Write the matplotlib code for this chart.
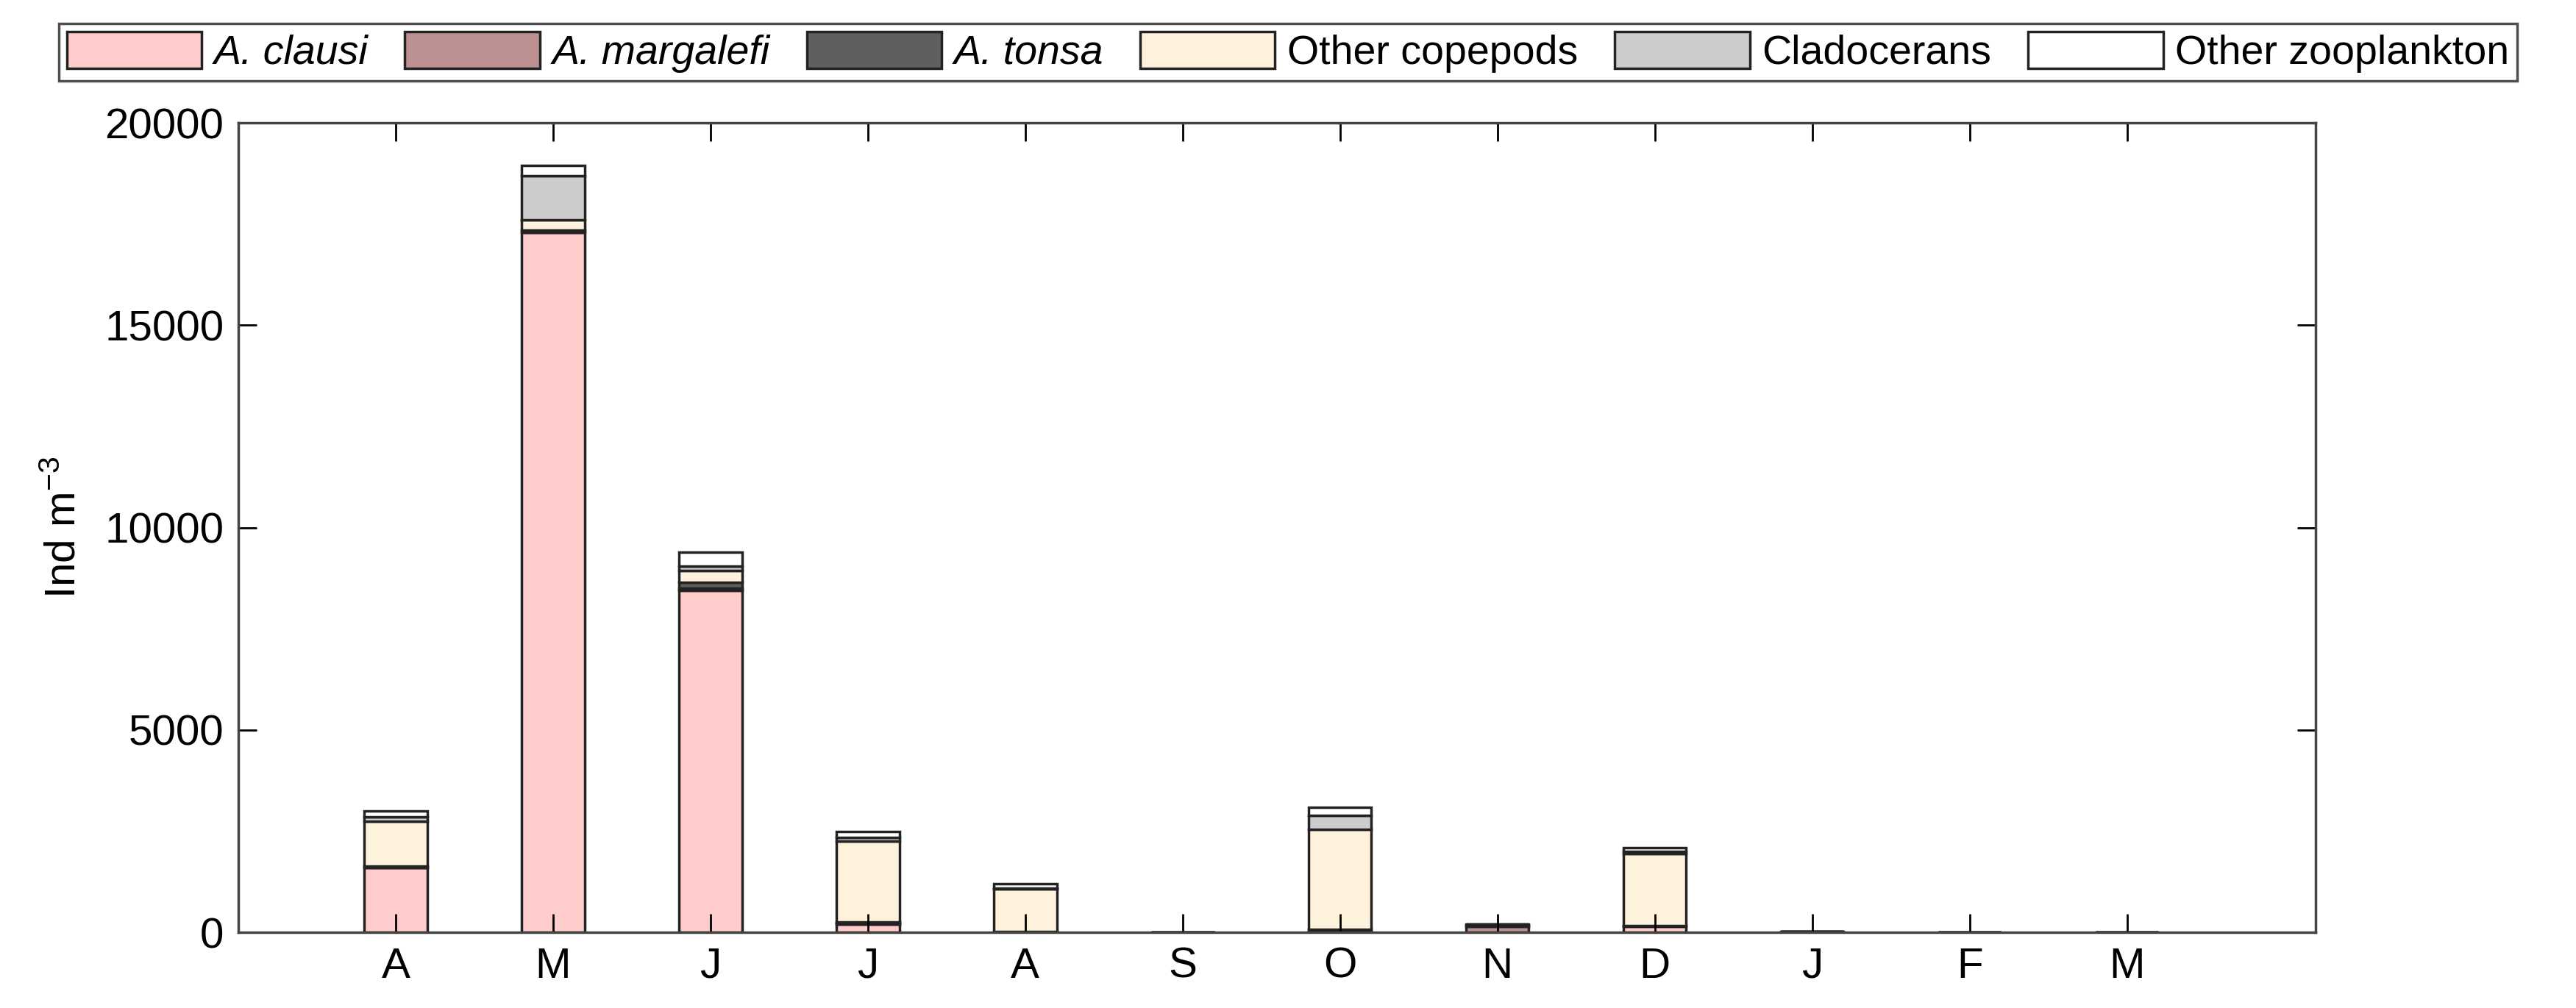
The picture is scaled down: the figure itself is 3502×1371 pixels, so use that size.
import matplotlib
matplotlib.use("Agg")
import matplotlib.pyplot as plt
import numpy as np

plt.rcParams['font.family'] = ['Liberation Sans', 'DejaVu Sans']
plt.rcParams['mathtext.fontset'] = 'custom'
plt.rcParams['mathtext.rm'] = 'Liberation Sans'
plt.rcParams['mathtext.it'] = 'Liberation Sans:italic'

months = ["A", "M", "J", "J", "A", "S", "O", "N", "D", "J", "F", "M"]
clausi     = [1600, 17300, 8450,  200,   20, 0,   20,   0,  150,  0, 0, 0]
margalefi  = [   0,     0,   50,   30,    0, 0,   60, 150,   20, 20, 0, 5]
tonsa      = [  30,    50,  150,   30,    0, 0,    0,  40,    0, 10, 0, 5]
other_cop  = [1120,   250,  300, 2000, 1050, 0, 2470,   5, 1780,  0, 0, 0]
cladocera  = [ 100,  1100,  100,   80,   30, 0,  350,   0,   50,  0, 0, 0]
other_zoo  = [ 150,   250,  350,  160,  100, 0,  200,   5,  100,  0, 0, 0]

series = [
    ("A. clausi", clausi, "#ffcccc", "italic"),
    ("A. margalefi", margalefi, "#bc9090", "italic"),
    ("A. tonsa", tonsa, "#5f5f5f", "italic"),
    ("Other copepods", other_cop, "#fff2dc", "normal"),
    ("Cladocerans", cladocera, "#cccccc", "normal"),
    ("Other zooplankton", other_zoo, "#ffffff", "normal"),
]

fig = plt.figure(figsize=(35.02, 13.71), dpi=100)
ax = fig.add_axes([0.0925, 0.075, 0.8065, 0.803])
x = np.arange(1, len(months) + 1)
bottom = np.zeros(len(months))
handles = []
for label, vals, col, st in series:
    v = np.array(vals, dtype=float)
    h = ax.bar(x, v, 0.4, bottom=bottom, color=col, edgecolor="#222222", linewidth=2.5, label=label)
    handles.append(h)
    bottom += v

ax.set_xlim(0, 13.2)
ax.set_ylim(0, 20000)
ax.set_xticks(x)
ax.set_xticklabels(months)
ax.set_yticks([0, 5000, 10000, 15000, 20000])
ax.tick_params(axis='both', labelsize=42, direction='in', length=18, width=2,
               top=True, right=True, pad=14)
for s in ax.spines.values():
    s.set_linewidth(2.5)
    s.set_color("#444444")
ax.set_ylabel("Ind m$^{-3}$", fontsize=42, labelpad=20)

leg = fig.legend(handles=handles, loc="upper center", bbox_to_anchor=(0.5, 0.997), ncol=6,
                 fontsize=40, frameon=True, fancybox=False, edgecolor="#222222",
                 handlelength=3.3, handleheight=1.0, columnspacing=0.9, handletextpad=0.3,
                 borderpad=0.2)
leg.get_frame().set_linewidth(2.5)
for t, (_, _, _, st) in zip(leg.get_texts(), series):
    t.set_fontstyle(st)

fig.savefig("out.png", dpi=100)
